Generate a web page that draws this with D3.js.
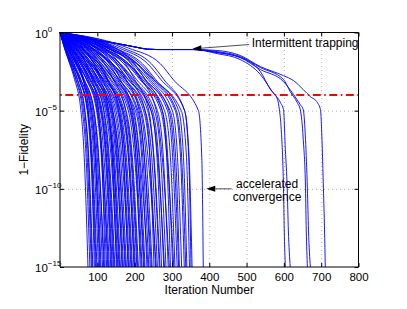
<!DOCTYPE html>
<html lang="en">
<head>
<meta charset="UTF-8">
<title>Fidelity vs iteration</title>
<script src="https://d3js.org/d3.v7.min.js"></script>
<style>
  body { margin: 0; background: #fff; }
  text { font-family: "Liberation Sans", Arial, sans-serif; fill: #000; }
</style>
</head>
<body>
<script>

// x ticks (iteration number) and y ticks (1 - fidelity)
const iterTicks = [100, 200, 300, 400, 500, 600, 700, 800];
const fidTicks = [1e0, 1e-5, 1e-10, 1e-15];
const fidTickExp = ["0", "\u22125", "\u221210", "\u221215"];
const gridIters = [100, 200, 300, 400, 500, 600, 700];
const gridFids = [1e-5, 1e-10];

const threshold = 1e-4;

// log10(1 - F) levels; each run lists the iteration where it crosses them
const fidLevels = [0, -1, -2, -3, -5, -8, -15];
const runIters = [
  [12, 26, 39, 56, 65, 75],
  [13, 28, 42, 60, 70, 80],
  [12, 27, 43, 63, 73, 84],
  [14, 30, 46, 66, 76, 86],
  [15, 31, 47, 67, 77, 88],
  [30, 50, 62, 76, 84, 92],
  [17, 34, 51, 73, 83, 95],
  [19, 37, 52, 74, 85, 97],
  [16, 35, 53, 75, 87, 99],
  [20, 38, 56, 79, 91, 103],
  [14, 32, 55, 84, 95, 106],
  [26, 46, 62, 82, 94, 108],
  [22, 42, 61, 85, 97, 110],
  [21, 42, 62, 88, 100, 114],
  [24, 46, 65, 91, 104, 117],
  [22, 44, 64, 91, 103, 119],
  [45, 70, 86, 103, 112, 121],
  [27, 50, 71, 98, 111, 125],
  [25, 49, 71, 100, 114, 128],
  [34, 58, 76, 101, 113, 130],
  [29, 54, 75, 104, 118, 132],
  [20, 45, 72, 108, 122, 136],
  [28, 55, 79, 110, 124, 138],
  [32, 58, 81, 111, 125, 140],
  [30, 58, 82, 113, 128, 143],
  [44, 70, 90, 117, 130, 145],
  [35, 62, 86, 118, 132, 147],
  [60, 90, 108, 130, 140, 151],
  [33, 63, 88, 122, 137, 153],
  [38, 67, 91, 125, 140, 155],
  [36, 66, 92, 127, 143, 158],
  [52, 80, 100, 128, 143, 160],
  [41, 71, 97, 131, 146, 162],
  [30, 62, 95, 137, 152, 166],
  [39, 72, 100, 135, 150, 168],
  [44, 77, 103, 139, 154, 170],
  [42, 76, 104, 141, 158, 174],
  [62, 92, 113, 142, 157, 176],
  [47, 82, 109, 146, 162, 178],
  [75, 108, 128, 157, 170, 182],
  [45, 83, 112, 150, 166, 184],
  [51, 87, 115, 154, 170, 186],
  [49, 86, 116, 157, 174, 190],
  [70, 104, 126, 160, 175, 192],
  [55, 93, 121, 162, 178, 194],
  [40, 80, 118, 168, 184, 198],
  [52, 94, 124, 166, 183, 200],
  [59, 99, 127, 169, 186, 202],
  [57, 98, 129, 172, 190, 206],
  [86, 120, 143, 176, 192, 208],
  [63, 104, 134, 177, 194, 210],
  [95, 132, 156, 189, 203, 215],
  [60, 104, 137, 183, 200, 218],
  [68, 112, 142, 187, 204, 220],
  [66, 111, 144, 190, 208, 224],
  [100, 140, 162, 193, 208, 226],
  [73, 118, 149, 195, 212, 228],
  [55, 105, 145, 202, 219, 233],
  [72, 120, 153, 198, 214, 236],
  [78, 126, 158, 206, 222, 238],
  [76, 125, 159, 209, 226, 242],
  [110, 152, 177, 212, 226, 245],
  [83, 133, 166, 215, 231, 247],
  [120, 160, 188, 228, 241, 252],
  [89, 141, 174, 224, 241, 256],
  [85, 136, 170, 218, 236, 258],
  [87, 141, 176, 228, 246, 261],
  [95, 150, 183, 235, 251, 266],
  [130, 175, 200, 238, 252, 268],
  [80, 140, 182, 244, 260, 272],
  [103, 160, 194, 248, 264, 278],
  [98, 155, 190, 244, 262, 280],
  [101, 162, 197, 253, 270, 284],
  [111, 171, 205, 261, 277, 290],
  [140, 190, 218, 258, 274, 293],
  [150, 200, 228, 274, 286, 296],
  [119, 183, 217, 274, 289, 302],
  [113, 178, 214, 270, 287, 305],
  [117, 184, 221, 280, 296, 308],
  [128, 194, 229, 288, 302, 314],
  [130, 198, 236, 292, 306, 318],
  [105, 180, 225, 295, 310, 320],
  [137, 206, 241, 301, 315, 326],
  [135, 208, 246, 309, 323, 333],
  [145, 215, 252, 312, 326, 337],
  [148, 221, 256, 318, 331, 340],
  [125, 205, 250, 325, 339, 347],
  [170, 245, 278, 334, 345, 351],
  [159, 235, 270, 334, 346, 354],
  [184, 269, 303, 371, 380, 384]
];

// trapped runs: shared plateau, then separate tails  [iteration, log10(1-F)]
const trapPrefix = [[0, 0], [25, -0.25], [85, -0.45], [140, -0.65], [200, -0.92], [235, -1.07], [260, -1.09]];
const trapTails = [
  [[357, -1.09], [421, -1.28], [483, -1.6], [537, -2.5], [564, -3.65], [583, -4.29], [588, -4.94], [593, -6.22], [599, -10], [601, -12.63], [604, -15]],
  [[357, -1.09], [421, -1.35], [483, -1.73], [537, -2.69], [569, -3.78], [591, -4.49], [599, -4.94], [604, -7.5], [609, -10], [612, -12.63], [617, -15]],
  [[357, -1.09], [421, -1.22], [483, -1.54], [537, -2.24], [599, -3.01], [617, -3.78], [636, -4.49], [644, -4.94], [652, -6.86], [658, -10], [660, -12.63], [663, -15]],
  [[357, -1.09], [421, -1.28], [483, -1.6], [537, -2.37], [599, -3.14], [626, -3.97], [644, -4.62], [652, -4.94], [658, -6.86], [663, -10], [666, -12.63], [671, -15]],
  [[357, -1.09], [421, -1.15], [483, -1.47], [537, -2.18], [599, -2.76], [626, -3.08], [652, -3.65], [671, -4.1], [690, -4.49], [698, -4.94], [703, -7.5], [706, -10], [709, -12.63], [711, -15]]
];

const w = 407;
const h = 309;

const x = d3.scaleLinear().domain([0, 800]).range([60, 358.5]);
const y = d3.scaleLog().domain([1e-15, 1]).range([267, 32.5]);

const svg = d3.select("body").append("svg")
  .attr("width", w)
  .attr("height", h);

// dotted grid
svg.append("g")
  .attr("transform", "translate(0," + y.range()[0] + ")")
  .call(d3.axisBottom(x).tickValues(gridIters).tickSize(-(y.range()[0] - y.range()[1])).tickFormat(""))
  .call(g => g.select(".domain").remove())
  .selectAll("line")
  .attr("stroke", "#b4b4b4")
  .attr("stroke-dasharray", "1,3");

svg.append("g")
  .attr("transform", "translate(" + x.range()[0] + ",0)")
  .call(d3.axisLeft(y).tickValues(gridFids).tickSize(-(x.range()[1] - x.range()[0])).tickFormat(""))
  .call(g => g.select(".domain").remove())
  .selectAll("line")
  .attr("stroke", "#b4b4b4")
  .attr("stroke-dasharray", "1,3");

// runs
const line = d3.line()
  .x(d => x(d[0]))
  .y(d => y(Math.pow(10, d[1])))
  .curve(d3.curveMonotoneX);

const runs = runIters.map(row => [[0, fidLevels[0]]].concat(row.map((it, k) => [it, fidLevels[k + 1]])));
trapTails.forEach(t => runs.push(trapPrefix.concat(t)));

svg.append("g")
  .selectAll("path")
  .data(runs)
  .enter()
  .append("path")
  .attr("d", line)
  .attr("fill", "none")
  .attr("stroke", "#0000ff")
  .attr("stroke-width", 0.9);

// threshold
svg.append("line")
  .attr("x1", x.range()[0]).attr("x2", x.range()[1])
  .attr("y1", y(threshold)).attr("y2", y(threshold))
  .attr("stroke", "#ff0000")
  .attr("stroke-width", 2)
  .attr("stroke-dasharray", "8,3.5,1.5,3.5")
  .attr("stroke-dashoffset", 11.2);

// frame
const frame = svg.append("g").attr("stroke", "#000").attr("stroke-width", 1);
frame.append("line").attr("x1", x.range()[0]).attr("x2", x.range()[1]).attr("y1", y.range()[1]).attr("y2", y.range()[1]);
frame.append("line").attr("x1", x.range()[0]).attr("x2", x.range()[1]).attr("y1", y.range()[0]).attr("y2", y.range()[0]);
frame.append("line").attr("x1", x.range()[0]).attr("x2", x.range()[0]).attr("y1", y.range()[0]).attr("y2", y.range()[1]);
frame.append("line").attr("x1", x.range()[1]).attr("x2", x.range()[1]).attr("y1", y.range()[0]).attr("y2", y.range()[1]);

// axes with inward ticks
const xAxis = svg.append("g")
  .attr("transform", "translate(0," + y.range()[0] + ")")
  .call(d3.axisBottom(x).tickValues(iterTicks).tickSizeInner(-4).tickSizeOuter(0).tickPadding(6).tickFormat(d3.format("d")));
xAxis.select(".domain").remove();
xAxis.selectAll("text").attr("font-size", 11.5).attr("font-family", "Liberation Sans, Arial, sans-serif");

svg.append("g")
  .attr("transform", "translate(0," + y.range()[1] + ")")
  .call(d3.axisTop(x).tickValues(iterTicks).tickSizeInner(-4).tickSizeOuter(0).tickFormat(""))
  .call(g => g.select(".domain").remove());

svg.append("g")
  .attr("transform", "translate(" + x.range()[1] + ",0)")
  .call(d3.axisRight(y).tickValues(fidTicks).tickSizeInner(-4).tickSizeOuter(0).tickFormat(""))
  .call(g => g.select(".domain").remove());

const yAxis = svg.append("g")
  .attr("transform", "translate(" + x.range()[0] + ",0)")
  .call(d3.axisLeft(y).tickValues(fidTicks).tickSizeInner(-4).tickSizeOuter(0).tickFormat(""));
yAxis.select(".domain").remove();
yAxis.selectAll(".tick text").each(function(d, i) {
  const t = d3.select(this)
    .attr("x", -25)
    .attr("dy", null)
    .attr("y", 4.5)
    .attr("text-anchor", "start")
    .attr("font-size", 11.5)
    .attr("font-family", "Liberation Sans, Arial, sans-serif");
  t.text(null);
  t.append("tspan").text("10");
  t.append("tspan").attr("dy", -6).attr("font-size", 8).text(fidTickExp[fidTicks.indexOf(d)]);
});

// axis titles
svg.append("text")
  .attr("x", (x.range()[0] + x.range()[1]) / 2)
  .attr("y", 294)
  .attr("text-anchor", "middle")
  .attr("font-size", 12)
  .text("Iteration Number");

svg.append("text")
  .attr("transform", "translate(28," + (y.range()[0] + y.range()[1]) / 2 + ") rotate(-90)")
  .attr("text-anchor", "middle")
  .attr("font-size", 12)
  .text("1\u2212Fidelity");

// annotations
function arrow(x1, y1, x2, y2) {
  const ang = Math.atan2(y2 - y1, x2 - x1);
  const len = 9, hw = 3;
  const bx = x2 - len * Math.cos(ang), by = y2 - len * Math.sin(ang);
  svg.append("line")
    .attr("x1", x1).attr("y1", y1).attr("x2", bx).attr("y2", by)
    .attr("stroke", "#222").attr("stroke-width", 0.8);
  svg.append("path")
    .attr("d", "M" + x2 + "," + y2 +
      "L" + (bx + hw * Math.sin(ang)) + "," + (by - hw * Math.cos(ang)) +
      "L" + (bx - hw * Math.sin(ang)) + "," + (by + hw * Math.cos(ang)) + "Z")
    .attr("fill", "#000");
}

arrow(x(507), y(0.17), x(355), y(0.09));
svg.append("text")
  .attr("x", x(514))
  .attr("y", y(0.17) + 2.5)
  .attr("font-size", 12)
  .text("Intermittent trapping");

arrow(x(460), y(1e-10), x(392), y(1e-10));
svg.append("text")
  .attr("x", x(555))
  .attr("y", y(1e-10) - 1)
  .attr("text-anchor", "middle")
  .attr("font-size", 12)
  .text("accelerated");
svg.append("text")
  .attr("x", x(555))
  .attr("y", y(1e-10) + 12)
  .attr("text-anchor", "middle")
  .attr("font-size", 12)
  .text("convergence");

</script>
</body>
</html>
